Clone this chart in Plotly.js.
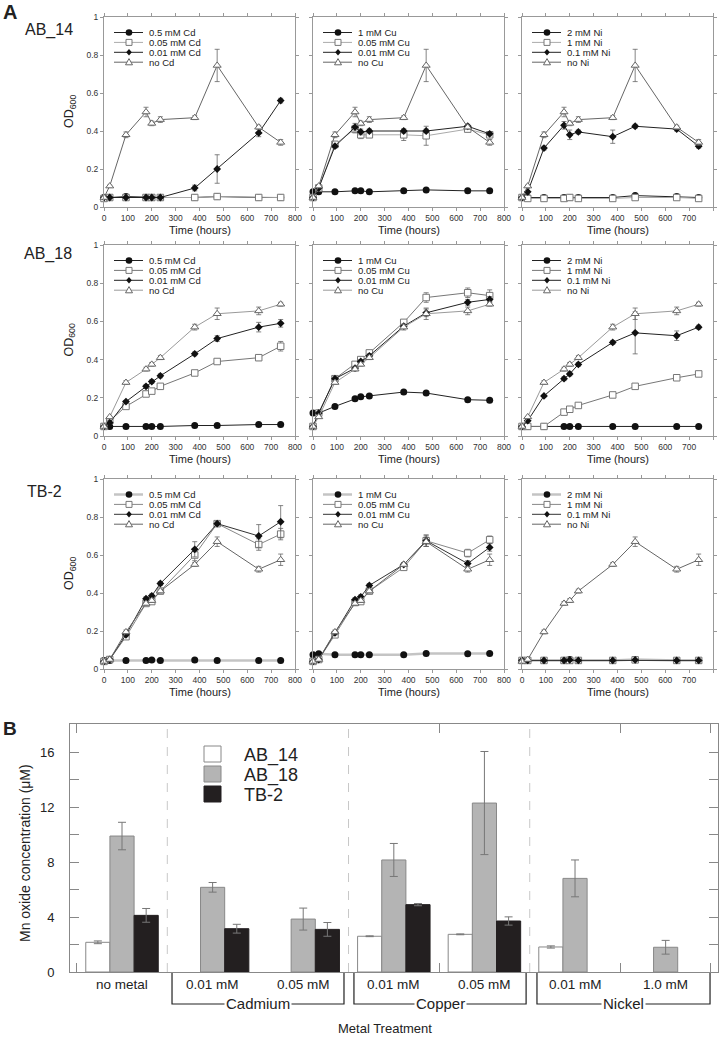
<!DOCTYPE html>
<html>
<head>
<meta charset="utf-8">
<script src="https://cdn.plot.ly/plotly-3.0.1.min.js"></script>
<style>html,body{margin:0;padding:0;background:#fff}#chart{width:720px;height:1038px}</style>
</head>
<body>
<div id="chart"></div>
<script>
// ---------- DATA: growth curves (OD600) ----------
const times = [0, 24, 92, 176, 200, 236, 380, 474, 648, 740];

// AB_14
const ab14_none    = [0.05, 0.11, 0.38, 0.50, 0.44, 0.46, 0.47, 0.745, 0.42, 0.34];
const ab14_noneErr = [0, 0.005, 0.015, 0.025, 0.012, 0.015, 0.01, 0.085, 0.01, 0.015];
const ab14Cd_high  = [0.05, 0.05, 0.055, 0.05, 0.05, 0.05, 0.05, 0.055, 0.05, 0.05];
const ab14Cd_mid   = [0.045, 0.05, 0.05, 0.05, 0.05, 0.05, 0.05, 0.055, 0.05, 0.05];
const ab14Cd_low   = [0.05, 0.05, 0.05, 0.05, 0.05, 0.05, 0.10, 0.20, 0.39, 0.56];
const ab14Cd_lowErr= [0, 0, 0, 0, 0, 0, 0.015, 0.075, 0.02, 0.012];
const ab14Cu_high  = [0.08, 0.08, 0.08, 0.085, 0.085, 0.08, 0.085, 0.09, 0.085, 0.085];
const ab14Cu_mid   = [0.05, 0.10, 0.33, 0.41, 0.38, 0.38, 0.38, 0.375, 0.41, 0.38];
const ab14Cu_midErr= [0, 0, 0.01, 0.02, 0.02, 0.01, 0.03, 0.05, 0.01, 0.01];
const ab14Cu_low   = [0.05, 0.10, 0.32, 0.42, 0.395, 0.40, 0.40, 0.40, 0.425, 0.385];
const ab14Cu_lowErr= [0, 0, 0.01, 0.02, 0.015, 0.01, 0.01, 0.01, 0.01, 0.01];
const ab14Ni_high  = [0.05, 0.05, 0.05, 0.05, 0.05, 0.05, 0.05, 0.06, 0.055, 0.05];
const ab14Ni_mid   = [0.05, 0.045, 0.045, 0.045, 0.05, 0.045, 0.045, 0.05, 0.05, 0.045];
const ab14Ni_low   = [0.05, 0.08, 0.31, 0.43, 0.38, 0.395, 0.37, 0.425, 0.41, 0.32];
const ab14Ni_lowErr= [0, 0, 0.01, 0.02, 0.025, 0.01, 0.035, 0.01, 0.01, 0.01];

// AB_18
const ab18_none    = [0.05, 0.10, 0.28, 0.35, 0.375, 0.41, 0.57, 0.64, 0.655, 0.69];
const ab18_noneErr = [0, 0, 0.01, 0.01, 0.01, 0.01, 0.015, 0.03, 0.02, 0.01];
const ab18Cd_high  = [0.05, 0.05, 0.05, 0.05, 0.05, 0.05, 0.055, 0.055, 0.06, 0.06];
const ab18Cd_mid   = [0.05, 0.08, 0.155, 0.22, 0.235, 0.26, 0.33, 0.39, 0.41, 0.47];
const ab18Cd_midErr= [0, 0, 0.005, 0.01, 0.01, 0.01, 0.01, 0.01, 0.015, 0.025];
const ab18Cd_low   = [0.05, 0.07, 0.18, 0.26, 0.285, 0.315, 0.43, 0.51, 0.57, 0.59];
const ab18Cd_lowErr= [0, 0, 0.005, 0.01, 0.01, 0.01, 0.01, 0.015, 0.025, 0.02];
const ab18Cu_high  = [0.12, 0.12, 0.155, 0.195, 0.205, 0.21, 0.23, 0.225, 0.19, 0.187];
const ab18Cu_mid   = [0.05, 0.12, 0.30, 0.375, 0.40, 0.435, 0.595, 0.725, 0.75, 0.735];
const ab18Cu_midErr= [0, 0, 0.01, 0.01, 0.01, 0.01, 0.01, 0.025, 0.025, 0.03];
const ab18Cu_low   = [0.05, 0.12, 0.30, 0.355, 0.39, 0.42, 0.575, 0.645, 0.70, 0.715];
const ab18Cu_lowErr= [0, 0, 0.01, 0.01, 0.01, 0.01, 0.01, 0.02, 0.015, 0.015];
const ab18Ni_high  = [0.05, 0.05, 0.05, 0.05, 0.05, 0.05, 0.05, 0.05, 0.05, 0.05];
const ab18Ni_mid   = [0.05, 0.05, 0.05, 0.125, 0.14, 0.16, 0.215, 0.26, 0.305, 0.325];
const ab18Ni_midErr= [0, 0, 0, 0, 0, 0, 0.005, 0.01, 0.005, 0.005];
const ab18Ni_low   = [0.05, 0.08, 0.21, 0.30, 0.325, 0.375, 0.49, 0.54, 0.525, 0.57];
const ab18Ni_lowErr= [0, 0, 0.005, 0.01, 0.01, 0.01, 0.01, 0.11, 0.025, 0.01];

// TB-2
const tb2_none     = [0.04, 0.05, 0.195, 0.345, 0.36, 0.41, 0.55, 0.67, 0.525, 0.575];
const tb2_noneErr  = [0, 0, 0.01, 0.01, 0.01, 0.01, 0.01, 0.025, 0.015, 0.03];
const tb2Cd_high   = [0.045, 0.045, 0.045, 0.045, 0.048, 0.045, 0.048, 0.045, 0.045, 0.045];
const tb2Cd_mid    = [0.04, 0.05, 0.17, 0.345, 0.355, 0.41, 0.60, 0.765, 0.655, 0.71];
const tb2Cd_midErr = [0, 0, 0.01, 0.01, 0.01, 0.01, 0.03, 0.01, 0.03, 0.03];
const tb2Cd_low    = [0.04, 0.05, 0.18, 0.37, 0.385, 0.45, 0.63, 0.765, 0.70, 0.775];
const tb2Cd_lowErr = [0, 0, 0.01, 0.01, 0.01, 0.01, 0.04, 0.01, 0.06, 0.085];
const tb2Cu_high   = [0.075, 0.08, 0.075, 0.075, 0.075, 0.075, 0.075, 0.082, 0.08, 0.082];
const tb2Cu_mid    = [0.04, 0.05, 0.18, 0.35, 0.355, 0.41, 0.535, 0.675, 0.61, 0.68];
const tb2Cu_midErr = [0, 0, 0.01, 0.01, 0.01, 0.01, 0.01, 0.03, 0.02, 0.02];
const tb2Cu_low    = [0.04, 0.05, 0.19, 0.365, 0.38, 0.44, 0.55, 0.675, 0.555, 0.64];
const tb2Cu_lowErr = [0, 0, 0.01, 0.01, 0.01, 0.01, 0.01, 0.03, 0.015, 0.02];
const tb2Ni_high   = [0.045, 0.045, 0.045, 0.045, 0.05, 0.045, 0.045, 0.05, 0.045, 0.045];
const tb2Ni_highErr= [0, 0, 0, 0, 0.005, 0, 0, 0.01, 0.005, 0];
const tb2Ni_mid    = [0.045, 0.045, 0.045, 0.045, 0.045, 0.045, 0.045, 0.048, 0.045, 0.045];
const tb2Ni_low    = [0.045, 0.045, 0.045, 0.045, 0.048, 0.045, 0.045, 0.048, 0.045, 0.045];

const cdLabels = ['0.5 mM Cd', '0.05 mM Cd', '0.01 mM Cd', 'no Cd'];
const cuLabels = ['1 mM Cu', '0.05 mM Cu', '0.01 mM Cu', 'no Cu'];
const niLabels = ['2 mM Ni', '1 mM Ni', '0.1 mM Ni', 'no Ni'];
const strainNames = ['AB_14', 'AB_18', 'TB-2'];
const xTicks = [0, 100, 200, 300, 400, 500, 600, 700, 800];
const yTicks = [0, 0.2, 0.4, 0.6, 0.8, 1];
const yTickText = ['0', '0.2', '0.4', '0.6', '0.8', '1'];

// ---------- DATA: Mn oxide bar chart ----------
const treatments = ['no metal', 'Cd 0.01 mM', 'Cd 0.05 mM', 'Cu 0.01 mM', 'Cu 0.05 mM', 'Ni 0.01 mM', 'Ni 1.0 mM'];
const treatmentLabels = ['no metal', '0.01 mM', '0.05 mM', '0.01 mM', '0.05 mM', '0.01 mM', '1.0 mM'];
const metalGroups = ['Cadmium', 'Copper', 'Nickel'];
const mnAB14    = [2.16, null, null, 2.6, 2.74, 1.82, null];
const mnAB14Err = [0.1, 0, 0, 0.03, 0.03, 0.08, 0];
const mnAB18    = [9.89, 6.16, 3.85, 8.15, 12.29, 6.81, 1.8];
const mnAB18Err = [1.0, 0.35, 0.8, 1.2, 3.75, 1.34, 0.5];
const mnTB2     = [4.12, 3.15, 3.1, 4.9, 3.71, null, null];
const mnTB2Err  = [0.5, 0.32, 0.5, 0.08, 0.3, 0, 0];

// ---------- LAYOUT HELPERS ----------
const W = 720, H = 1038;
const fx = px => px / W;
const fy = py => 1 - py / H;
const FONT = 'Liberation Sans, Arial, Helvetica, sans-serif';

const colLeft = [104, 313, 522], colRight = [295, 504, 713];
const rowTop = [17, 245, 479], rowBottom = [207, 436, 669];

const panels = [
  [ {labels: cdLabels, ys: [ab14Cd_high, ab14Cd_mid, ab14Cd_low, ab14_none], es: [null, null, ab14Cd_lowErr, ab14_noneErr]},
    {labels: cuLabels, ys: [ab14Cu_high, ab14Cu_mid, ab14Cu_low, ab14_none], es: [null, ab14Cu_midErr, ab14Cu_lowErr, ab14_noneErr]},
    {labels: niLabels, ys: [ab14Ni_high, ab14Ni_mid, ab14Ni_low, ab14_none], es: [null, null, ab14Ni_lowErr, ab14_noneErr]} ],
  [ {labels: cdLabels, ys: [ab18Cd_high, ab18Cd_mid, ab18Cd_low, ab18_none], es: [null, ab18Cd_midErr, ab18Cd_lowErr, ab18_noneErr]},
    {labels: cuLabels, ys: [ab18Cu_high, ab18Cu_mid, ab18Cu_low, ab18_none], es: [null, ab18Cu_midErr, ab18Cu_lowErr, ab18_noneErr]},
    {labels: niLabels, ys: [ab18Ni_high, ab18Ni_mid, ab18Ni_low, ab18_none], es: [null, ab18Ni_midErr, ab18Ni_lowErr, ab18_noneErr]} ],
  [ {labels: cdLabels, ys: [tb2Cd_high, tb2Cd_mid, tb2Cd_low, tb2_none], es: [null, tb2Cd_midErr, tb2Cd_lowErr, tb2_noneErr]},
    {labels: cuLabels, ys: [tb2Cu_high, tb2Cu_mid, tb2Cu_low, tb2_none], es: [null, tb2Cu_midErr, tb2Cu_lowErr, tb2_noneErr]},
    {labels: niLabels, ys: [tb2Ni_high, tb2Ni_mid, tb2Ni_low, tb2_none], es: [tb2Ni_highErr, null, null, tb2_noneErr]} ]
];

const rowLineColors = [
  ['#222', '#aaa', '#222', '#666'],
  ['#222', '#777', '#222', '#9a9a9a'],
  ['#c4c4c4', '#888', '#333', '#666']
];
const rowLineWidths = [[1, 1, 1, 1], [1, 1, 1, 1], [2.5, 1, 1, 1]];
const markerStyles = [
  {symbol: 'circle', size: 7, color: '#111', line: {width: 0}},
  {symbol: 'square', size: 6.5, color: '#fff', line: {color: '#777', width: 1}},
  {symbol: 'diamond', size: 6, color: '#111', line: {width: 0}},
  {symbol: 'triangle-up', size: 7, color: '#fff', line: {color: '#666', width: 1}}
];

const data = [];
const layout = {
  width: W, height: H,
  margin: {l: 0, r: 0, t: 0, b: 0},
  paper_bgcolor: '#fff', plot_bgcolor: '#fff',
  showlegend: false,
  font: {family: FONT, color: '#222'},
  barmode: 'group', bargap: 0.2, bargroupgap: 0,
  shapes: [], annotations: []
};

function ann(text, px, py, size, opts) {
  layout.annotations.push(Object.assign({
    text: text, x: fx(px), y: fy(py), xref: 'paper', yref: 'paper',
    showarrow: false, font: {family: FONT, size: size, color: '#222'},
    xanchor: 'center', yanchor: 'middle'
  }, opts || {}));
}

for (let r = 0; r < 3; r++) {
  for (let c = 0; c < 3; c++) {
    const k = r * 3 + c + 1;
    const xa = 'xaxis' + k, ya = 'yaxis' + k;
    const p = panels[r][c];
    layout[xa] = {
      domain: [fx(colLeft[c]), fx(colRight[c])], anchor: 'y' + k,
      range: [0, 800], tickmode: 'array', tickvals: xTicks, ticktext: xTicks.map(String),
      ticks: 'outside', ticklen: 3, tickcolor: '#999', showline: true, linecolor: '#999', linewidth: 1,
      mirror: 'ticks', showgrid: false, zeroline: false,
      tickfont: {family: FONT, size: 8.5, color: '#333'}
    };
    layout[ya] = {
      domain: [fy(rowBottom[r]), fy(rowTop[r])], anchor: 'x' + k,
      range: [0, 1], tickmode: 'array', tickvals: yTicks, ticktext: yTickText,
      ticks: 'outside', ticklen: 3, tickcolor: '#999', showline: true, linecolor: '#999', linewidth: 1,
      mirror: 'ticks', showgrid: false, zeroline: false, showticklabels: c === 0,
      tickfont: {family: FONT, size: 8.5, color: '#333'}
    };
    for (let s = 0; s < 4; s++) {
      const tr = {
        type: 'scatter', mode: 'lines+markers', x: times, y: p.ys[s],
        xaxis: 'x' + k, yaxis: 'y' + k, name: p.labels[s], showlegend: false, cliponaxis: false,
        line: {color: rowLineColors[r][s], width: rowLineWidths[r][s]},
        marker: markerStyles[s]
      };
      if (p.es[s]) tr.error_y = {type: 'data', array: p.es[s], visible: true, color: '#666', thickness: 0.8, width: 2.5};
      data.push(tr);
    }
    // manual legend
    const L = colLeft[c], T = rowTop[r];
    for (let s = 0; s < 4; s++) {
      const cy = T + 15.5 + s * 9.9;
      const cx = L + 25;
      layout.shapes.push({type: 'line', xref: 'paper', yref: 'paper', x0: fx(L + 10), x1: fx(L + 39), y0: fy(cy), y1: fy(cy),
        line: {color: rowLineColors[r][s], width: rowLineWidths[r][s]}});
      if (s === 0) {
        layout.shapes.push({type: 'circle', xref: 'paper', yref: 'paper', x0: fx(cx - 3.3), x1: fx(cx + 3.3), y0: fy(cy + 3.3), y1: fy(cy - 3.3),
          fillcolor: '#111', line: {width: 0}});
      } else if (s === 1) {
        layout.shapes.push({type: 'rect', xref: 'paper', yref: 'paper', x0: fx(cx - 3), x1: fx(cx + 3), y0: fy(cy + 3), y1: fy(cy - 3),
          fillcolor: '#fff', line: {color: '#777', width: 1}});
      } else if (s === 2) {
        const pth = 'M' + fx(cx) + ',' + fy(cy - 3.3) + ' L' + fx(cx + 2.8) + ',' + fy(cy) + ' L' + fx(cx) + ',' + fy(cy + 3.3) + ' L' + fx(cx - 2.8) + ',' + fy(cy) + ' Z';
        layout.shapes.push({type: 'path', xref: 'paper', yref: 'paper', path: pth, fillcolor: '#111', line: {width: 0}});
      } else {
        const pth = 'M' + fx(cx) + ',' + fy(cy - 3.6) + ' L' + fx(cx + 3.5) + ',' + fy(cy + 2.6) + ' L' + fx(cx - 3.5) + ',' + fy(cy + 2.6) + ' Z';
        layout.shapes.push({type: 'path', xref: 'paper', yref: 'paper', path: pth, fillcolor: '#fff', line: {color: '#666', width: 1}});
      }
      ann(p.labels[s], L + 43, cy, 9.5, {xanchor: 'left'});
    }
    // x title
    const titleY = [230, 459, 692][r];
    ann('Time (hours)', (colLeft[c] + colRight[c]) / 2, titleY, 11);
    if (c === 0) {
      ann('OD<sub>600</sub>', 70, (rowTop[r] + rowBottom[r]) / 2, 12.5, {textangle: -90});
    }
  }
}

// row labels
ann('<b>A</b>', 10, 12, 20);
ann('AB_14', 49, 30, 16);
ann('AB_18', 48, 254, 16);
ann('TB-2', 44, 491, 16);
ann('<b>B</b>', 10, 728, 19);

// ---------- BAR CHART ----------
const barX = treatments.map((t, i) => i);
layout.xaxis10 = {
  domain: [fx(70), fx(718)], anchor: 'y10', range: [-0.574, 6.578],
  tickmode: 'array', tickvals: [-0.5, 3.5, 5.5, 6.5], ticks: 'inside', ticklen: 9, tickcolor: '#888',
  showticklabels: false, showline: true, linecolor: '#888', linewidth: 1, mirror: 'ticks',
  showgrid: false, zeroline: false
};
layout.yaxis10 = {
  domain: [fy(972), fy(724)], anchor: 'x10', range: [0, 18.04],
  tickmode: 'linear', tick0: 0, dtick: 4, ticks: 'inside', ticklen: 9, tickcolor: '#888',
  minor: {tickmode: 'linear', tick0: 0, dtick: 2, ticks: 'inside', ticklen: 9, tickcolor: '#888', showgrid: false},
  showline: true, linecolor: '#888', linewidth: 1, mirror: 'ticks', showgrid: false, zeroline: false,
  tickfont: {family: FONT, size: 13, color: '#222'}, ticklabelstandoff: 12
};
const barSeries = [
  {name: 'AB_14', y: mnAB14, e: mnAB14Err, color: '#ffffff'},
  {name: 'AB_18', y: mnAB18, e: mnAB18Err, color: '#b4b4b4'},
  {name: 'TB-2', y: mnTB2, e: mnTB2Err, color: '#231f20'}
];
barSeries.forEach((b, i) => {
  data.push({
    type: 'bar', x: barX, y: b.y, name: b.name, xaxis: 'x10', yaxis: 'y10', showlegend: false,
    marker: {color: b.color, line: {color: i === 2 ? '#231f20' : '#888', width: 1}},
    error_y: {type: 'data', array: b.e, visible: true, color: '#777', thickness: 1, width: 4}
  });
  const cy = 754 + i * 20;
  layout.shapes.push({type: 'rect', xref: 'paper', yref: 'paper', x0: fx(204), x1: fx(221), y0: fy(cy + 8), y1: fy(cy - 8),
    fillcolor: b.color, line: {color: i === 2 ? '#231f20' : '#888', width: 1}});
  ann(b.name, 242, cy + 1, 18, {xanchor: 'left'});
});
// dashed separators between metal groups
[0.5, 2.5, 4.5].forEach(v => {
  layout.shapes.push({type: 'line', xref: 'x10', yref: 'y10', x0: v, x1: v, y0: 0, y1: 18.04,
    line: {color: '#c8c8c8', width: 1, dash: 'dash'}});
});
// category labels
treatmentLabels.forEach((lab, i) => {
  layout.annotations.push({text: lab, x: barX[i], xref: 'x10', y: fy(984), yref: 'paper', showarrow: false,
    font: {family: FONT, size: 13.5, color: '#222'}, xanchor: 'center', yanchor: 'middle'});
});
// brackets for metal groups
const bracketSpans = [[0.552, 2.45], [2.56, 4.46], [4.58, 6.49]];
bracketSpans.forEach((sp, i) => {
  const pth = 'M' + sp[0] + ',' + fy(973) + ' L' + sp[0] + ',' + fy(1004) + ' L' + sp[1] + ',' + fy(1004) + ' L' + sp[1] + ',' + fy(973);
  layout.shapes.push({type: 'path', xref: 'x10', yref: 'paper', path: pth, line: {color: '#222', width: 1.2}});
  layout.annotations.push({text: metalGroups[i], x: (sp[0] + sp[1]) / 2, xref: 'x10', y: fy(1003), yref: 'paper',
    showarrow: false, font: {family: FONT, size: 15, color: '#222'}, bgcolor: '#fff', borderpad: 1,
    xanchor: 'center', yanchor: 'middle'});
});
ann('Metal Treatment', 385, 1028, 13);
ann('Mn oxide concentration (\u03bcM)', 25, 853, 14, {textangle: -90});

Plotly.newPlot('chart', data, layout, {staticPlot: true, displayModeBar: false});
</script>
</body>
</html>
